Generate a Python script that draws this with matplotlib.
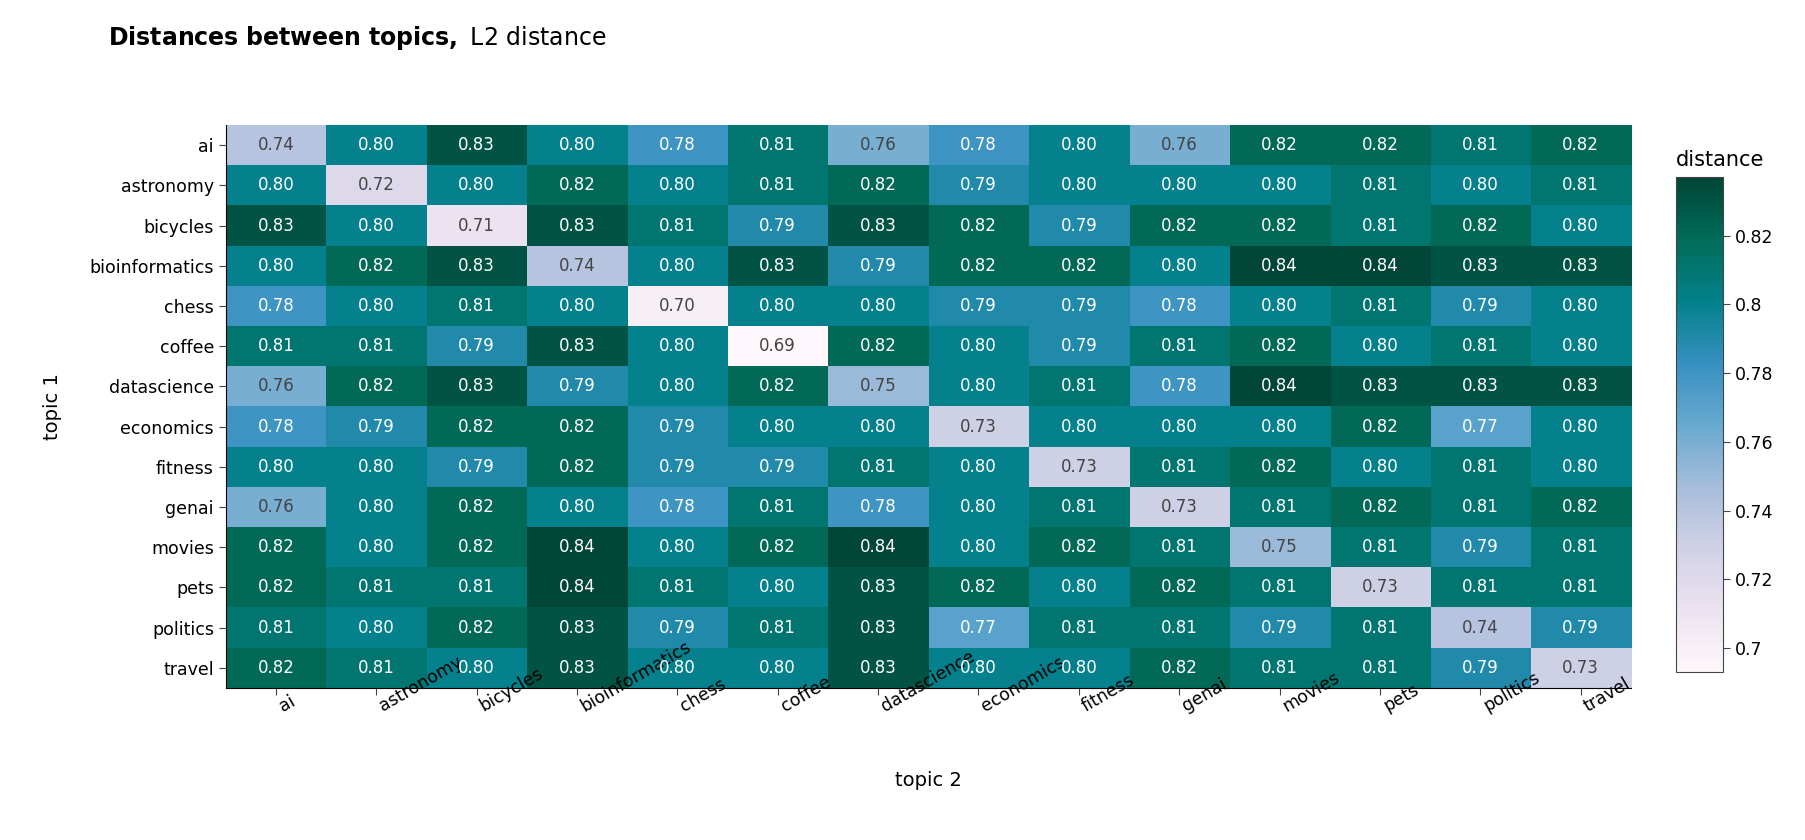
import matplotlib
matplotlib.use("Agg")
import matplotlib.pyplot as plt
import numpy as np

topics = ["ai","astronomy","bicycles","bioinformatics","chess","coffee","datascience",
          "economics","fitness","genai","movies","pets","politics","travel"]
values = [
[0.74,0.80,0.83,0.80,0.78,0.81,0.76,0.78,0.80,0.76,0.82,0.82,0.81,0.82],
[0.80,0.72,0.80,0.82,0.80,0.81,0.82,0.79,0.80,0.80,0.80,0.81,0.80,0.81],
[0.83,0.80,0.71,0.83,0.81,0.79,0.83,0.82,0.79,0.82,0.82,0.81,0.82,0.80],
[0.80,0.82,0.83,0.74,0.80,0.83,0.79,0.82,0.82,0.80,0.84,0.84,0.83,0.83],
[0.78,0.80,0.81,0.80,0.70,0.80,0.80,0.79,0.79,0.78,0.80,0.81,0.79,0.80],
[0.81,0.81,0.79,0.83,0.80,0.69,0.82,0.80,0.79,0.81,0.82,0.80,0.81,0.80],
[0.76,0.82,0.83,0.79,0.80,0.82,0.75,0.80,0.81,0.78,0.84,0.83,0.83,0.83],
[0.78,0.79,0.82,0.82,0.79,0.80,0.80,0.73,0.80,0.80,0.80,0.82,0.77,0.80],
[0.80,0.80,0.79,0.82,0.79,0.79,0.81,0.80,0.73,0.81,0.82,0.80,0.81,0.80],
[0.76,0.80,0.82,0.80,0.78,0.81,0.78,0.80,0.81,0.73,0.81,0.82,0.81,0.82],
[0.82,0.80,0.82,0.84,0.80,0.82,0.84,0.80,0.82,0.81,0.75,0.81,0.79,0.81],
[0.82,0.81,0.81,0.84,0.81,0.80,0.83,0.82,0.80,0.82,0.81,0.73,0.81,0.81],
[0.81,0.80,0.82,0.83,0.79,0.81,0.83,0.77,0.81,0.81,0.79,0.81,0.74,0.79],
[0.82,0.81,0.80,0.83,0.80,0.80,0.83,0.80,0.80,0.82,0.81,0.81,0.79,0.73],
]
cbar_ticks = [0.70, 0.72, 0.74, 0.76, 0.78, 0.80, 0.82]
cbar_labels = ["0.7", "0.72", "0.74", "0.76", "0.78", "0.8", "0.82"]

data = np.array(values)
vmin, vmax = 0.693, 0.837
fig = plt.figure(figsize=(18.06, 8.4), dpi=100)
ax = fig.add_axes([0.125, 0.181, 0.778, 0.670])
im = ax.imshow(data, cmap="PuBuGn", vmin=vmin, vmax=vmax, aspect="auto")
n = len(topics)
for i in range(n):
    for j in range(n):
        v = data[i, j]
        ax.text(j, i, f"{v:.2f}", ha="center", va="center", fontsize=12,
                color="#444444" if v < 0.765 else "white")
ax.set_xticks(range(n))
ax.set_xticklabels(topics, rotation=30, ha="left", rotation_mode="anchor", fontsize=12.5)
ax.set_yticks(range(n))
ax.set_yticklabels(topics, fontsize=12.5)
ax.tick_params(axis="both", length=5, color="#444444")
for s in ["top", "right"]:
    ax.spines[s].set_visible(False)
ax.set_xlabel("topic 2", fontsize=14, labelpad=40)
ax.set_ylabel("topic 1", fontsize=14, labelpad=20)

cax = fig.add_axes([0.928, 0.2, 0.026, 0.589])
cb = fig.colorbar(im, cax=cax, ticks=cbar_ticks)
cb.ax.set_yticklabels(cbar_labels, fontsize=12.5)
cb.outline.set_edgecolor("#444444")
cb.ax.tick_params(length=5, color="#444444")
fig.text(0.928, 0.81, "distance", fontsize=15, ha="left", va="center")

fig.text(0.06, 0.955, r"$\bf{Distances\ between\ topics,}$ L2 distance", fontsize=17, ha="left", va="center")
fig.savefig("out.png", dpi=100)
